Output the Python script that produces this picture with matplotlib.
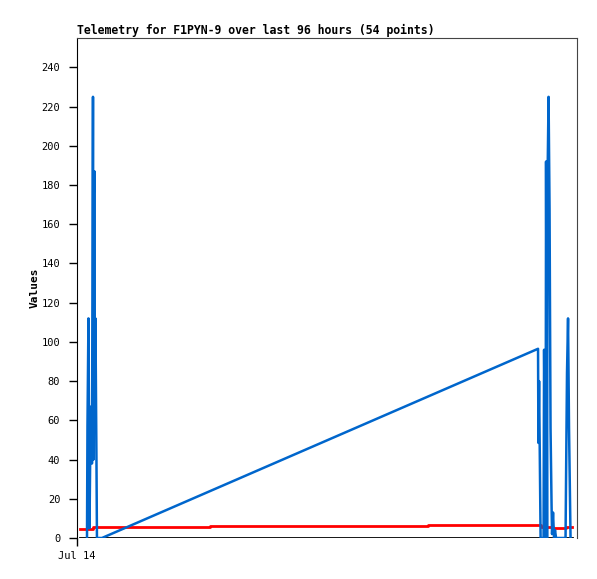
import matplotlib
matplotlib.use("Agg")
from matplotlib import pyplot as plt

# hours since start of window
blue_t = [1.92, 2.01, 2.20, 2.40, 2.59, 2.68, 2.87, 3.07, 3.16, 3.26, 3.35, 3.45, 3.54, 3.74, 3.83,
          4.79, 88.52, 88.59, 88.72, 89.01, 89.58, 89.68, 89.97, 90.06, 90.25, 90.35, 90.54,
          90.73, 90.92, 91.12, 91.21, 91.40, 91.59, 91.78, 91.98, 93.80, 93.89, 94.08, 94.28,
          94.47, 94.76]
blue_v = [0, 57, 112, 5, 57, 67, 38, 225, 40, 176, 187, 60, 112, 38, 0,
          0, 96.5, 48.5, 80, 0, 0, 96, 0, 192, 0, 184, 225,
          168, 56, 16, 2, 13, 0, 4, 0, 0, 28, 84, 112,
          56, 0]

red_t = [0.57, 3.07, 25.5, 67.4, 89.1, 91.3, 93.9, 95.0]
red_v = [4.6, 5.8, 6.3, 6.8, 5.8, 4.9, 5.8, 5.8]

black_t = [0.57, 95.0]
black_v = [0, 0]

yticks = list(range(0, 241, 20))

plt.rcParams['font.family'] = ['DejaVu Sans Mono']
fig = plt.figure(figsize=(5.97, 5.79), dpi=100)
ax = fig.add_axes([77 / 597, 41 / 579, 500 / 597, 500 / 579])

ax.plot(black_t, black_v, color="black", lw=2)
ax.plot(red_t, red_v, color="#ff0000", lw=2, drawstyle="steps-post")
ax.plot(blue_t, blue_v, color="#0066cc", lw=1.8)

ax.set_xlim(0, 96)
ax.set_ylim(0, 255)
ax.set_yticks(yticks)
ax.set_xticks([0])
ax.set_xticklabels(["Jul 14"])
ax.tick_params(labelsize=7.5, length=6, width=1, color="black")
ax.tick_params(axis="y", pad=6)

ax.spines["bottom"].set_visible(False)
ax.spines["left"].set_color("black")
ax.spines["top"].set_color("#444444")
ax.spines["right"].set_color("#444444")

ax.set_ylabel("Values", fontsize=8, fontweight="bold")
ax.yaxis.set_label_coords(-0.075, 0.5)
ax.set_title("Telemetry for F1PYN-9 over last 96 hours (54 points)",
             fontsize=8.3, fontweight="bold", loc="left", pad=3)

fig.savefig("out.png", dpi=100)
